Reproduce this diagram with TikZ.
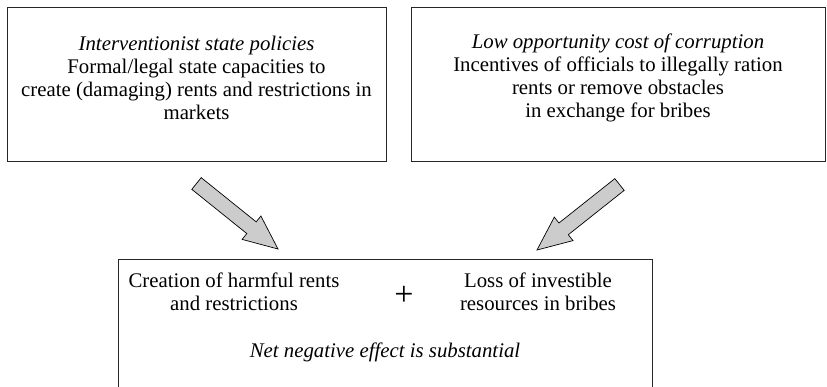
\documentclass[tikz,border=0pt]{standalone}
\usepackage{fontspec}
\setmainfont{Liberation Serif}
\usetikzlibrary{calc}
\tikzset{
  box/.style={draw=black!85, line width=0.9pt, rectangle, inner sep=0pt, align=center},
  txt/.style={inner sep=0pt, align=center, font=\fontsize{20.8}{23.2}\selectfont},
  blk/.style={draw=black, line width=0.7pt, fill=black!20, line join=miter},
}
\newcommand{\blockarr}[2]{%
  \coordinate (hb) at ($(#2)!34pt!(#1)$);
  \draw[blk] ($(#1)!7.5pt!90:(#2)$) -- ($(hb)!7.5pt!90:(#2)$) -- ($(hb)!15pt!90:(#2)$)
    -- (#2) -- ($(hb)!15pt!-90:(#2)$) -- ($(hb)!7.5pt!-90:(#2)$) -- ($(#1)!7.5pt!-90:(#2)$) -- cycle;}
\begin{document}
\begin{tikzpicture}[x=1pt,y=-1pt]
\useasboundingbox (0,0) rectangle (827,386);
\begin{scope}
\clip (0,0) rectangle (827,386);
\node[box, minimum width=379pt, minimum height=154pt] (lbox) at (196.5,84) {};
\node[txt] (ltext) at (196.5,78) {\textit{Interventionist state policies}\\Formal/legal state capacities to\\create (damaging) rents and restrictions in\\markets};
\node[box, minimum width=414pt, minimum height=154pt] (rbox) at (618,84) {};
\node[txt] (rtext) at (618,78) {\textit{Low opportunity cost of corruption}\\Incentives of officials to illegally ration\\rents or remove obstacles\\in exchange for bribes};
\node[box, minimum width=534pt, minimum height=150pt] (bbox) at (385,334) {};
\node[txt] (b1) at (234,292) {Creation of harmful rents\\and restrictions};
\node[txt, font=\fontsize{34}{34}\selectfont] (plus) at (404,296) {+};
\node[txt] (b2) at (538,292) {Loss of investible\\resources in bribes};
\node[txt] (b3) at (385,352) {\textit{Net negative effect is substantial}};
\coordinate (lt) at (196.5,183.5);
\coordinate (lh) at (278,249);
\coordinate (rt) at (619.5,184.5);
\coordinate (rh) at (537,250);
\blockarr{lt}{lh}
\blockarr{rt}{rh}
\end{scope}
\end{tikzpicture}
\end{document}
